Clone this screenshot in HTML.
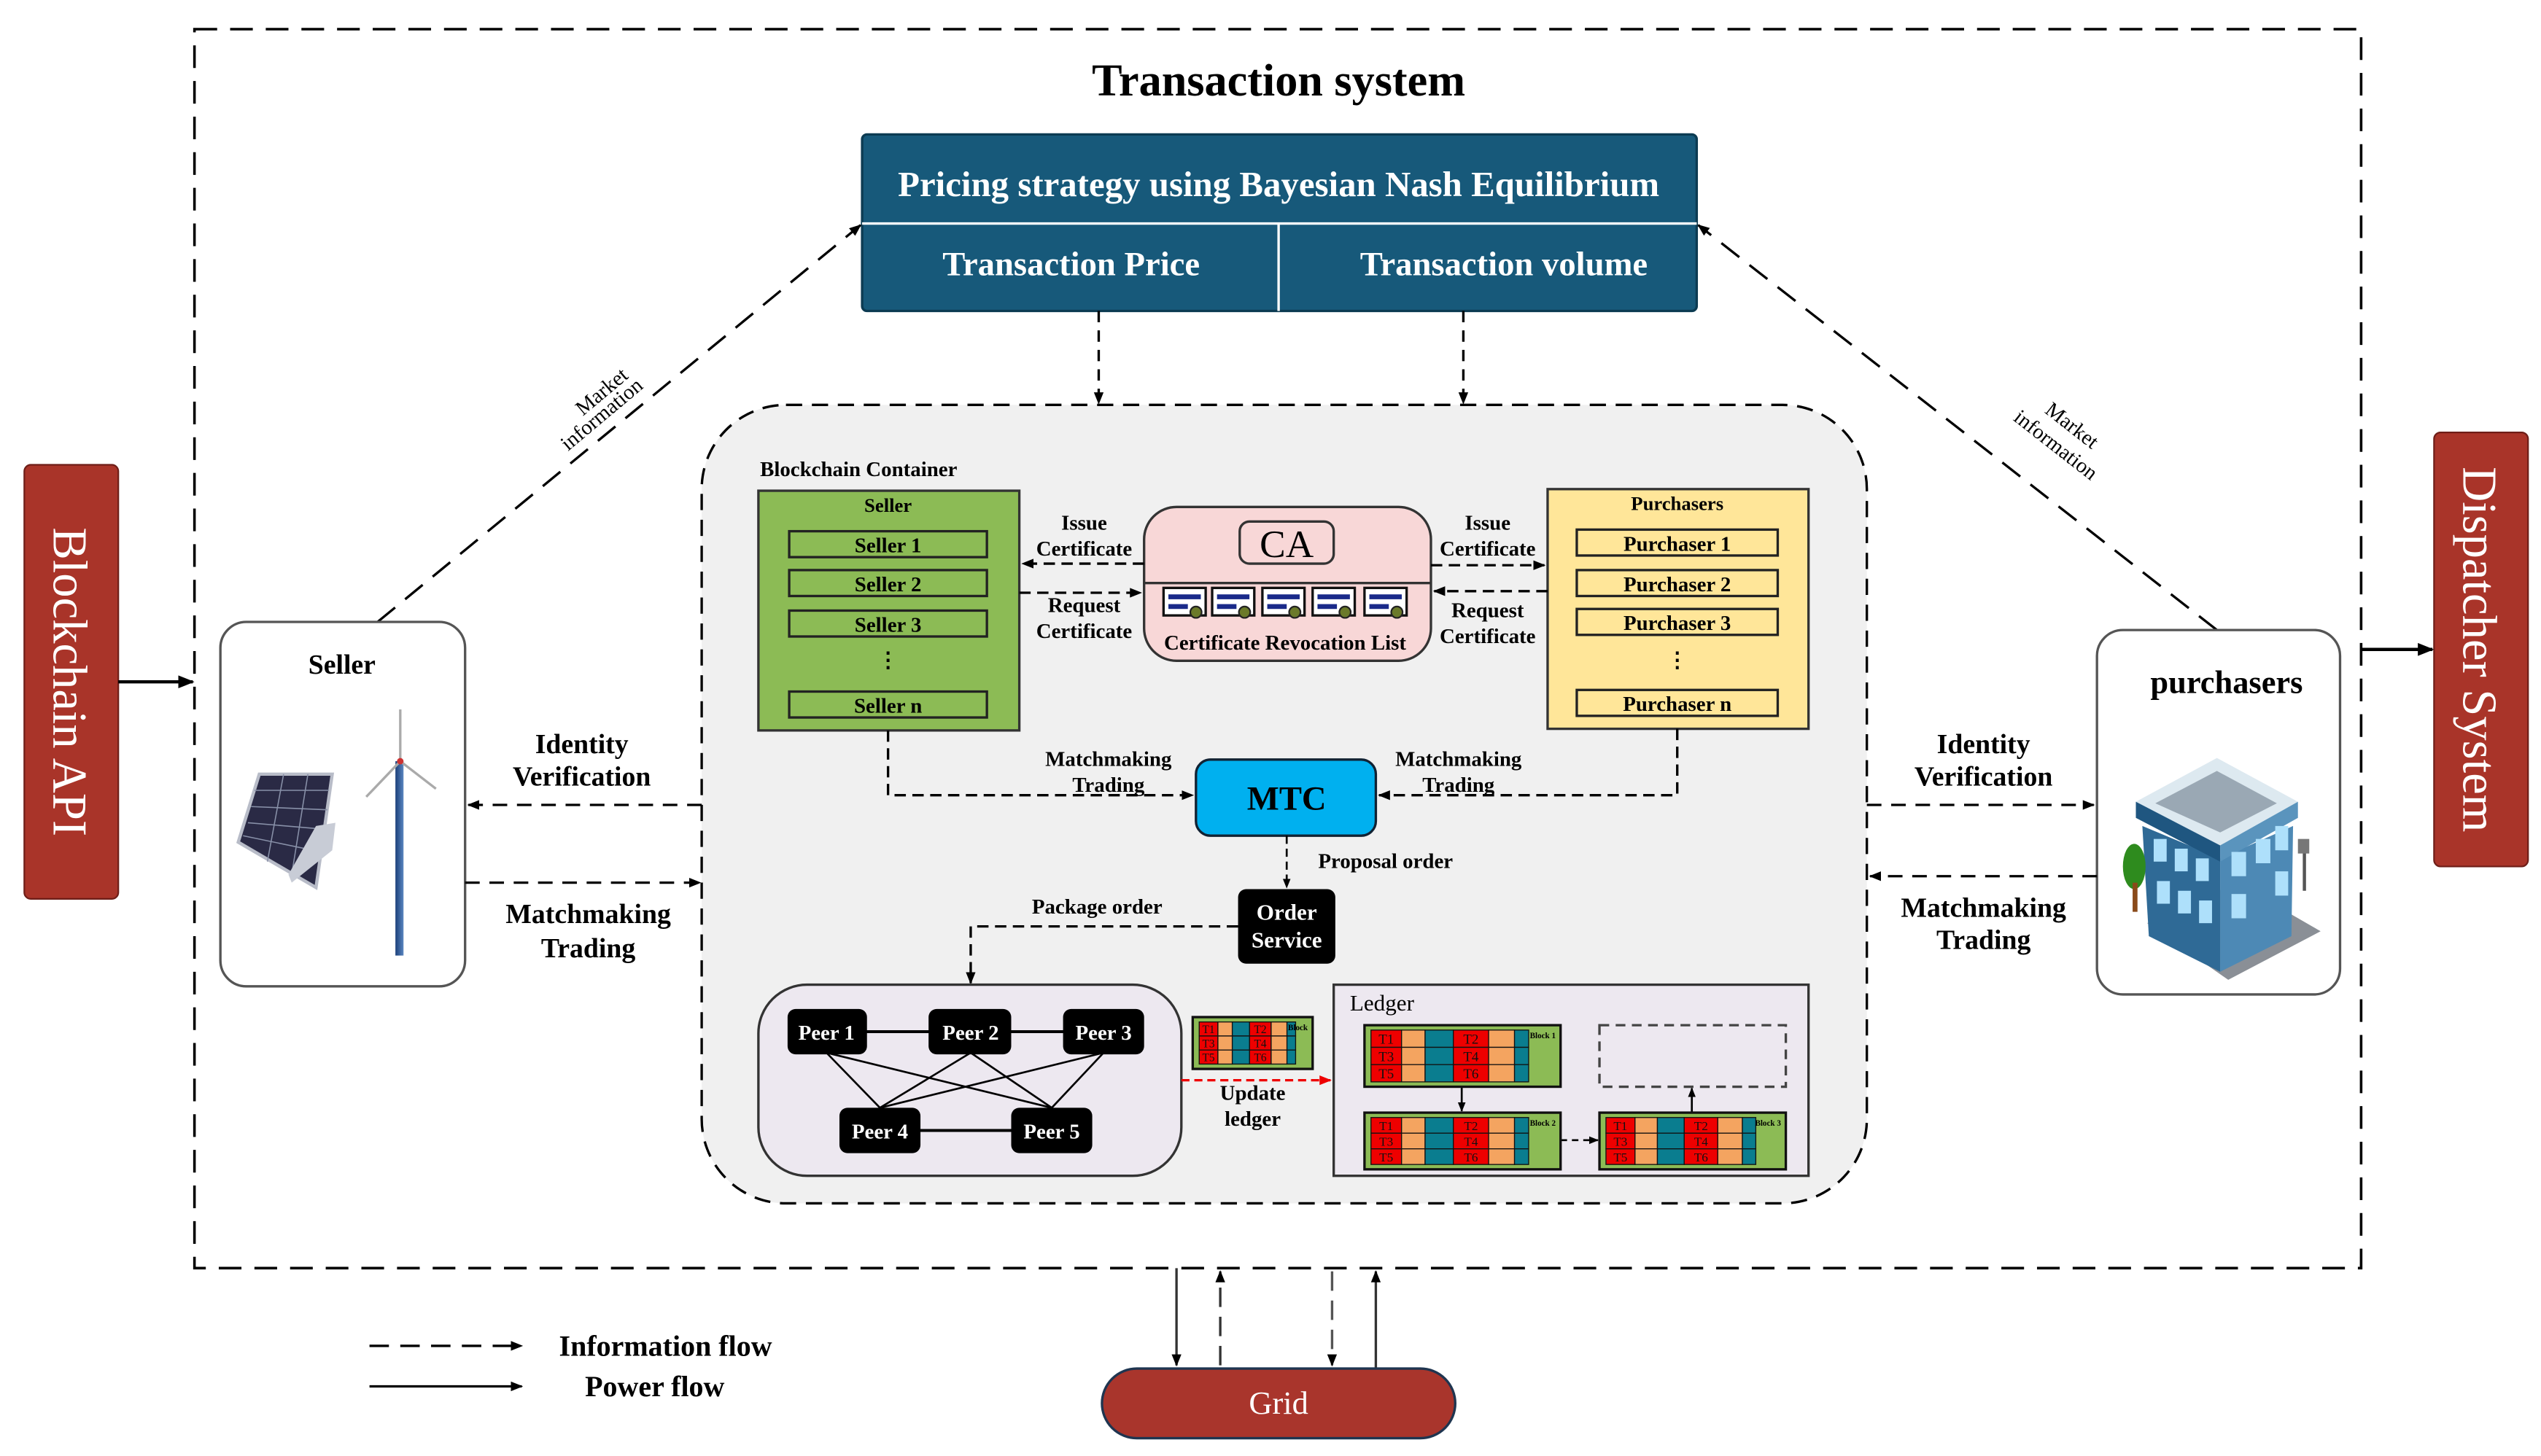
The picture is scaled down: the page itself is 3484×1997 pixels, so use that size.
<!DOCTYPE html>
<html><head><meta charset="utf-8"><style>
html,body{margin:0;padding:0;background:#fff;}
svg{display:block;}
text{font-family:"Liberation Serif",serif;font-weight:bold;}
</style></head><body>
<svg id="s" width="3484" height="1997" viewBox="0 0 1568 899" preserveAspectRatio="none" xmlns="http://www.w3.org/2000/svg">
<defs>
<marker id="a" viewBox="0 0 10 10" refX="9" refY="5" markerWidth="5" markerHeight="5" orient="auto"><path d="M0,1 L10,5 L0,9 z" fill="#000"/></marker>
<marker id="ar" viewBox="0 0 10 10" refX="9" refY="5" markerWidth="5" markerHeight="5" orient="auto"><path d="M0,1 L10,5 L0,9 z" fill="#e00"/></marker>
<linearGradient id="pole" x1="0" x2="1"><stop offset="0" stop-color="#1b3f7a"/><stop offset="1" stop-color="#5a86c0"/></linearGradient>
</defs>
<rect width="1568" height="899" fill="#fff"/>
<rect x="120" y="18" width="1337" height="765" fill="none" stroke="#000" stroke-width="1.6" stroke-dasharray="14,8"/>
<text x="789" y="59" font-size="28" text-anchor="middle">Transaction system</text>
<rect x="532" y="83" width="515" height="109" rx="3" fill="#17597a" stroke="#0c3b52" stroke-width="1.5"/>
<line x1="532" y1="138" x2="1047" y2="138" stroke="#fff" stroke-width="1.5"/>
<line x1="789" y1="138" x2="789" y2="192" stroke="#fff" stroke-width="1.5"/>
<text x="789" y="121" font-size="22" fill="#fff" text-anchor="middle">Pricing strategy using Bayesian Nash Equilibrium</text>
<text x="661" y="170" font-size="21" fill="#fff" text-anchor="middle">Transaction Price</text>
<text x="928" y="170" font-size="21" fill="#fff" text-anchor="middle">Transaction volume</text>
<rect x="15" y="287" width="58" height="268" rx="4" fill="#a93429" stroke="#6e1e18"/>
<text transform="translate(33,421) rotate(90)" font-size="30" fill="#fff" text-anchor="middle" style="font-weight:normal">Blockchain API</text>
<rect x="1502" y="267" width="58" height="268" rx="4" fill="#a93429" stroke="#6e1e18"/>
<text transform="translate(1520,401) rotate(90)" font-size="30" fill="#fff" text-anchor="middle" style="font-weight:normal">Dispatcher System</text>
<line x1="73" y1="421" x2="119" y2="421" stroke="#000" stroke-width="2" marker-end="url(#a)"/>
<line x1="1457" y1="401" x2="1501" y2="401" stroke="#000" stroke-width="2" marker-end="url(#a)"/>
<line x1="233" y1="384" x2="531" y2="139" stroke="#000" stroke-width="1.5" stroke-dasharray="14,8" marker-end="url(#a)"/>
<line x1="1368" y1="389" x2="1048" y2="139" stroke="#000" stroke-width="1.5" stroke-dasharray="14,8" marker-end="url(#a)"/>
<text transform="translate(374,245) rotate(-40)" font-size="13" text-anchor="middle" style="font-weight:normal">Market</text>
<text transform="translate(374,259) rotate(-40)" font-size="13" text-anchor="middle" style="font-weight:normal">information</text>
<text transform="translate(1276,266) rotate(38)" font-size="13" text-anchor="middle" style="font-weight:normal">Market</text>
<text transform="translate(1266,278) rotate(38)" font-size="13" text-anchor="middle" style="font-weight:normal">information</text>
<rect x="433" y="250" width="719" height="493" rx="52" fill="#f0f0f0" stroke="#000" stroke-width="1.5" stroke-dasharray="10,6"/>
<line x1="678" y1="192" x2="678" y2="249" stroke="#000" stroke-width="1.5" stroke-dasharray="7,5" marker-end="url(#a)"/>
<line x1="903" y1="192" x2="903" y2="249" stroke="#000" stroke-width="1.5" stroke-dasharray="7,5" marker-end="url(#a)"/>
<rect x="136" y="384" width="151" height="225" rx="16" fill="#fff" stroke="#555" stroke-width="1.5"/>
<text x="211" y="416" font-size="17" text-anchor="middle">Seller</text>
<polygon points="160,478 205,478 195,548 147,520" fill="#2a2a45" stroke="#b8bcc8" stroke-width="2"/>
<g stroke="#8890a8" stroke-width="0.7"><line x1="157" y1="488" x2="203" y2="488"/><line x1="155" y1="498" x2="202" y2="500"/><line x1="153" y1="508" x2="200" y2="512"/><line x1="150" y1="516" x2="198" y2="526"/><line x1="175" y1="478" x2="165" y2="532"/><line x1="190" y1="478" x2="180" y2="540"/></g>
<polygon points="195,510 207,508 205,525 180,545 178,540" fill="#c8ccd6"/>
<rect x="244" y="470" width="5" height="120" fill="url(#pole)"/>
<line x1="247" y1="470" x2="247" y2="438" stroke="#aaa" stroke-width="1.5"/>
<line x1="247" y1="470" x2="226" y2="492" stroke="#aaa" stroke-width="1.5"/>
<line x1="247" y1="470" x2="269" y2="487" stroke="#aaa" stroke-width="1.5"/>
<circle cx="247" cy="470" r="2" fill="#c33"/>
<rect x="1294" y="389" width="150" height="225" rx="16" fill="#fff" stroke="#555" stroke-width="1.5"/>
<text x="1374" y="428" font-size="20" text-anchor="middle">purchasers</text>
<polygon points="1325,570 1380,545 1432,575 1375,605" fill="#8a8f96"/>
<polygon points="1322,510 1370,530 1370,600 1326,578" fill="#2f6a96"/>
<polygon points="1370,530 1415,510 1414,578 1370,600" fill="#4d89b5"/>
<polygon points="1318,495 1368,468 1418,495 1370,522" fill="#dde9f0"/>
<polygon points="1330,496 1368,476 1405,496 1370,514" fill="#9aa8b4"/>
<polygon points="1318,495 1370,522 1370,532 1318,505" fill="#1f5680"/>
<polygon points="1370,522 1418,495 1418,505 1370,532" fill="#5a94bd"/>
<g fill="#aee0fb"><rect x="1329" y="518" width="8" height="14"/><rect x="1342" y="524" width="8" height="14"/><rect x="1355" y="530" width="8" height="14"/><rect x="1331" y="544" width="8" height="14"/><rect x="1344" y="550" width="8" height="14"/><rect x="1357" y="556" width="8" height="14"/><rect x="1377" y="526" width="9" height="15"/><rect x="1392" y="518" width="9" height="15"/><rect x="1404" y="510" width="8" height="15"/><rect x="1377" y="552" width="9" height="15"/><rect x="1404" y="538" width="8" height="15"/></g>
<ellipse cx="1317" cy="535" rx="7" ry="14" fill="#2e8b1e"/><rect x="1316" y="545" width="3" height="18" fill="#8a4a1a"/>
<rect x="1421" y="525" width="2" height="25" fill="#555"/><rect x="1418" y="518" width="7" height="9" fill="#777"/>
<line x1="433" y1="497" x2="289" y2="497" stroke="#000" stroke-width="1.5" stroke-dasharray="9,6" marker-end="url(#a)"/>
<line x1="287" y1="545" x2="432" y2="545" stroke="#000" stroke-width="1.5" stroke-dasharray="9,6" marker-end="url(#a)"/>
<line x1="1152" y1="497" x2="1292" y2="497" stroke="#000" stroke-width="1.5" stroke-dasharray="9,6" marker-end="url(#a)"/>
<line x1="1294" y1="541" x2="1154" y2="541" stroke="#000" stroke-width="1.5" stroke-dasharray="9,6" marker-end="url(#a)"/>
<g font-size="17" text-anchor="middle">
<text x="359" y="465">Identity</text><text x="359" y="485">Verification</text>
<text x="363" y="570">Matchmaking</text><text x="363" y="591">Trading</text>
<text x="1224" y="465">Identity</text><text x="1224" y="485">Verification</text>
<text x="1224" y="566">Matchmaking</text><text x="1224" y="586">Trading</text>
</g>
<text x="469" y="294" font-size="13">Blockchain Container</text>
<rect x="468" y="303" width="161" height="148" fill="#8cbb55" stroke="#333" stroke-width="1.5"/>
<text x="548" y="316" font-size="12" text-anchor="middle">Seller</text>
<g stroke="#222" stroke-width="1.5" fill="none"><rect x="487" y="328" width="122" height="16"/><rect x="487" y="352" width="122" height="16"/><rect x="487" y="377" width="122" height="16"/><rect x="487" y="427" width="122" height="16"/></g>
<g font-size="13" text-anchor="middle"><text x="548" y="341">Seller 1</text><text x="548" y="365">Seller 2</text><text x="548" y="390">Seller 3</text><text x="548" y="412">⋮</text><text x="548" y="440">Seller n</text></g>
<rect x="955" y="302" width="161" height="148" fill="#ffe699" stroke="#333" stroke-width="1.5"/>
<text x="1035" y="315" font-size="12" text-anchor="middle">Purchasers</text>
<g stroke="#222" stroke-width="1.5" fill="none"><rect x="973" y="327" width="124" height="16"/><rect x="973" y="352" width="124" height="16"/><rect x="973" y="376" width="124" height="16"/><rect x="973" y="426" width="124" height="16"/></g>
<g font-size="13" text-anchor="middle"><text x="1035" y="340">Purchaser 1</text><text x="1035" y="365">Purchaser 2</text><text x="1035" y="389">Purchaser 3</text><text x="1035" y="412">⋮</text><text x="1035" y="439">Purchaser n</text></g>
<rect x="706" y="313" width="177" height="95" rx="20" fill="#f8d7d7" stroke="#333" stroke-width="1.5"/>
<line x1="706" y1="360" x2="883" y2="360" stroke="#333" stroke-width="1.5"/>
<rect x="765" y="322" width="58" height="26" rx="6" fill="#f8d7d7" stroke="#333" stroke-width="1.5"/>
<text x="794" y="344" font-size="24" text-anchor="middle" style="font-weight:normal">CA</text>
<g id="certs"></g>
<text x="793" y="401" font-size="13" text-anchor="middle">Certificate Revocation List</text>
<g stroke="#000" stroke-width="1.5" stroke-dasharray="7,4">
<line x1="706" y1="348" x2="631" y2="348" marker-end="url(#a)"/>
<line x1="629" y1="366" x2="704" y2="366" marker-end="url(#a)"/>
<line x1="883" y1="349" x2="953" y2="349" marker-end="url(#a)"/>
<line x1="955" y1="365" x2="885" y2="365" marker-end="url(#a)"/>
</g>
<g font-size="13" text-anchor="middle">
<text x="669" y="327">Issue</text><text x="669" y="343">Certificate</text>
<text x="669" y="378">Request</text><text x="669" y="394">Certificate</text>
<text x="918" y="327">Issue</text><text x="918" y="343">Certificate</text>
<text x="918" y="381">Request</text><text x="918" y="397">Certificate</text>
</g>
<rect x="738" y="469" width="111" height="47" rx="9" fill="#00b0ef" stroke="#123" stroke-width="1.5"/>
<text x="794" y="500" font-size="21" text-anchor="middle">MTC</text>
<polyline points="548,451 548,491 736,491" fill="none" stroke="#000" stroke-width="1.5" stroke-dasharray="7,4" marker-end="url(#a)"/>
<polyline points="1035,450 1035,491 851,491" fill="none" stroke="#000" stroke-width="1.5" stroke-dasharray="7,4" marker-end="url(#a)"/>
<g font-size="13" text-anchor="middle">
<text x="684" y="473">Matchmaking</text><text x="684" y="489">Trading</text>
<text x="900" y="473">Matchmaking</text><text x="900" y="489">Trading</text>
<text x="855" y="536">Proposal order</text>
<text x="677" y="564">Package order</text>
<text x="773" y="679">Update</text><text x="773" y="695">ledger</text>
</g>
<line x1="794" y1="516" x2="794" y2="548" stroke="#000" stroke-width="1.2" stroke-dasharray="5,3" marker-end="url(#a)"/>
<rect x="764" y="549" width="60" height="46" rx="5" fill="#000"/>
<text x="794" y="568" font-size="14" fill="#fff" text-anchor="middle">Order</text>
<text x="794" y="585" font-size="14" fill="#fff" text-anchor="middle">Service</text>
<polyline points="764,572 599,572 599,607" fill="none" stroke="#000" stroke-width="1.5" stroke-dasharray="7,4" marker-end="url(#a)"/>
<rect x="468" y="608" width="261" height="118" rx="30" fill="#ede8f0" stroke="#333" stroke-width="1.5"/>
<g stroke="#000" stroke-width="1.2">
<line x1="510" y1="637" x2="681" y2="637" stroke-width="1.8"/>
<line x1="543" y1="698" x2="649" y2="698" stroke-width="1.8"/>
<line x1="510" y1="650" x2="543" y2="684"/><line x1="510" y1="650" x2="649" y2="684"/>
<line x1="599" y1="650" x2="543" y2="684"/><line x1="599" y1="650" x2="649" y2="684"/>
<line x1="681" y1="650" x2="543" y2="684"/><line x1="681" y1="650" x2="649" y2="684"/>
</g>
<g fill="#000"><rect x="486" y="623" width="49" height="28" rx="5"/><rect x="573" y="623" width="51" height="28" rx="5"/><rect x="656" y="623" width="50" height="28" rx="5"/><rect x="518" y="684" width="50" height="28" rx="5"/><rect x="624" y="684" width="50" height="28" rx="5"/></g>
<g font-size="13" fill="#fff" text-anchor="middle"><text x="510" y="642">Peer 1</text><text x="599" y="642">Peer 2</text><text x="681" y="642">Peer 3</text><text x="543" y="703">Peer 4</text><text x="649" y="703">Peer 5</text></g>
<line x1="729" y1="667" x2="821" y2="667" stroke="#e00" stroke-width="1.5" stroke-dasharray="5,3" marker-end="url(#ar)"/>
<rect x="823" y="608" width="293" height="118" fill="#ede8f0" stroke="#333" stroke-width="1.5"/>
<text x="833" y="624" font-size="14" style="font-weight:normal">Ledger</text>
<rect x="987" y="633" width="115" height="38" fill="none" stroke="#444" stroke-width="1.5" stroke-dasharray="6,4"/>
<line x1="902" y1="671" x2="902" y2="686" stroke="#000" stroke-width="1.2" marker-end="url(#a)"/>
<line x1="963" y1="704" x2="986" y2="704" stroke="#000" stroke-width="1.2" stroke-dasharray="4,3" marker-end="url(#a)"/>
<line x1="1044" y1="687" x2="1044" y2="672" stroke="#000" stroke-width="1.2" marker-end="url(#a)"/>
<g id="blocks"></g>
<line x1="726" y1="783" x2="726" y2="843" stroke="#333" stroke-width="1.5" marker-end="url(#a)"/>
<line x1="753" y1="843" x2="753" y2="785" stroke="#333" stroke-width="1.5" stroke-dasharray="12,6" marker-end="url(#a)"/>
<line x1="822" y1="785" x2="822" y2="843" stroke="#555" stroke-width="1.5" stroke-dasharray="12,6" marker-end="url(#a)"/>
<line x1="849" y1="845" x2="849" y2="785" stroke="#333" stroke-width="1.5" marker-end="url(#a)"/>
<rect x="680" y="845" width="218" height="43" rx="21.5" fill="#a9352c" stroke="#1f3550" stroke-width="1.5"/>
<text x="789" y="873" font-size="20" fill="#fff" text-anchor="middle" style="font-weight:normal">Grid</text>
<line x1="228" y1="831" x2="322" y2="831" stroke="#000" stroke-width="1.5" stroke-dasharray="12,7" marker-end="url(#a)"/>
<line x1="228" y1="856" x2="322" y2="856" stroke="#000" stroke-width="1.5" marker-end="url(#a)"/>
<text x="345" y="837" font-size="18">Information flow</text>
<text x="361" y="862" font-size="18">Power flow</text>
</svg>
<script>
var NS="http://www.w3.org/2000/svg";
function el(p,t,a,txt){var e=document.createElementNS(NS,t);for(var k in a)e.setAttribute(k,a[k]);if(txt)e.textContent=txt;p.appendChild(e);return e;}
var c=document.getElementById("certs");
[718,748,779,810,842].forEach(function(x){el(c,"rect",{x:x,y:363,width:26,height:17,fill:"#fff",stroke:"#111","stroke-width":1.5});el(c,"rect",{x:x+3,y:367,width:20,height:3,fill:"#1a2a8a"});el(c,"rect",{x:x+3,y:373,width:12,height:3,fill:"#1a2a8a"});el(c,"circle",{cx:x+20,cy:378,r:3.5,fill:"#6b7a2a",stroke:"#222"});});
var b=document.getElementById("blocks");
function block(x,y,w,h,lab){
 el(b,"rect",{x:x,y:y,width:w,height:h,fill:"#8cbb55",stroke:"#111","stroke-width":1.5});
 var cw=(w*0.78)/6.5, rh=(h-6)/3;
 var cols=["#e00","#f4a460","#0a7d8f","#e00","#f4a460","#0a7d8f"], ws=[1.3,1,1.2,1.5,1.1,0.6];
 var n=1;
 for(var r=0;r<3;r++){var cx=x+4;for(var i=0;i<6;i++){var ww=cw*ws[i];el(b,"rect",{x:cx,y:y+3+r*rh,width:ww,height:rh,fill:cols[i],stroke:"#111","stroke-width":0.6});if(i==0||i==3){el(b,"text",{x:cx+ww/2,y:y+3+r*rh+rh*0.8,"font-size":rh*0.8,"text-anchor":"middle",fill:"#111",style:"font-weight:normal"},"T"+(i==0?n:n+1));}cx+=ww;}n+=2;}
 if(lab)el(b,"text",{x:x+w-3,y:y+8,"font-size":5,"text-anchor":"end"},lab);
}
block(736,628,74,32,"Block");
block(842,633,121,38,"Block 1");
block(842,687,121,35,"Block 2");
block(987,687,115,35,"Block 3");
</script>
</body></html>
